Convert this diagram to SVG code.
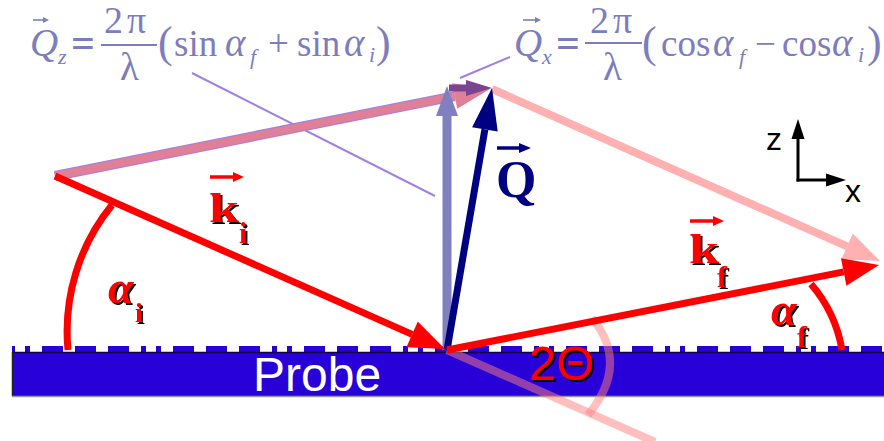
<svg xmlns="http://www.w3.org/2000/svg" width="884" height="441" viewBox="0 0 884 441">
<defs>
<style>
.form{font-family:"Liberation Serif","Times New Roman",serif;fill:#7d7dbd;font-size:37px}
.it{font-style:italic}
.sub{font-size:22px;font-style:italic}
.par{font-size:44px}
.lab{font-family:"Liberation Serif","Times New Roman",serif;font-weight:bold;fill:#ff0000}
.sans{font-family:"Liberation Sans",Arial,sans-serif}
.thin{stroke:#a080e0;stroke-width:2;fill:none}
.vec{fill:none;stroke-linecap:butt}
.arc{fill:none;stroke:#ff0000;stroke-width:7}
.ghost{fill:none;stroke:#ff7f7f;stroke-width:8;opacity:0.5}
</style>
<filter id="sh" x="-30%" y="-30%" width="160%" height="160%"><feOffset in="SourceAlpha" dx="2" dy="1.5" result="o"/><feMerge><feMergeNode in="o"/><feMergeNode in="SourceGraphic"/></feMerge></filter>
<marker id="m-red" markerUnits="userSpaceOnUse" markerWidth="38" markerHeight="30" refX="0" refY="14" orient="auto" overflow="visible"><path d="M0,0 L36,14 L0,28 Z" fill="#ff0000"/></marker>
<marker id="m-lpink" markerUnits="userSpaceOnUse" markerWidth="38" markerHeight="30" refX="0" refY="14" orient="auto" overflow="visible"><path d="M0,0 L36,14 L0,28 Z" fill="#ffb0b0"/></marker>
<marker id="m-mauve" markerUnits="userSpaceOnUse" markerWidth="38" markerHeight="28" refX="0" refY="13" orient="auto" overflow="visible"><path d="M0,0 L36,13 L0,26 Z" fill="#e07f98"/></marker>
<marker id="m-navy" markerUnits="userSpaceOnUse" markerWidth="44" markerHeight="28" refX="0" refY="13" orient="auto" overflow="visible"><path d="M0,0 L42,13 L0,26 Z" fill="#000080"/></marker>
<marker id="m-slate" markerUnits="userSpaceOnUse" markerWidth="32" markerHeight="24" refX="0" refY="11" orient="auto" overflow="visible"><path d="M0,0 L30,11 L0,22 Z" fill="#8080c0"/></marker>
<marker id="m-purple" markerUnits="userSpaceOnUse" markerWidth="28" markerHeight="18" refX="0" refY="8" orient="auto" overflow="visible"><path d="M0,0 L26,8 L0,16 Z" fill="#7a4590"/></marker>
<marker id="m-black" markerUnits="userSpaceOnUse" markerWidth="22" markerHeight="15" refX="0" refY="6.5" orient="auto" overflow="visible"><path d="M0,0 L20,6.5 L0,13 Z" fill="#000000"/></marker>
<marker id="m-red-s" markerUnits="userSpaceOnUse" markerWidth="13" markerHeight="12" refX="0" refY="5" orient="auto" overflow="visible"><path d="M0,0 L11,5 L0,10 Z" fill="#ff0000"/></marker>
<marker id="m-navy-s" markerUnits="userSpaceOnUse" markerWidth="14" markerHeight="12" refX="0" refY="5" orient="auto" overflow="visible"><path d="M0,0 L12,5 L0,10 Z" fill="#000080"/></marker>
<marker id="m-form" markerUnits="userSpaceOnUse" markerWidth="8" markerHeight="8" refX="0" refY="3" orient="auto" overflow="visible"><path d="M0,0 L6,3 L0,6 Z" fill="#7d7dbd"/></marker>
</defs>
<rect x="0" y="0" width="884" height="441" fill="#ffffff"/>

<g id="probe">
<rect x="12" y="352" width="880" height="44" fill="#2800d8"/>
<line x1="12" y1="349" x2="884" y2="349" stroke="#2800d8" stroke-width="6" stroke-dasharray="21 12 21 12 21 12 5 10 5 12" stroke-dashoffset="-30"/>
<line x1="12" y1="352.5" x2="884" y2="352.5" stroke="#14004a" stroke-width="1.5"/>
<line x1="12.5" y1="352" x2="12.5" y2="396" stroke="#222222" stroke-width="1.5"/>
<line x1="12" y1="396.5" x2="884" y2="396.5" stroke="#999999" stroke-width="1.5"/>
<text class="sans" x="253" y="391" font-size="48" fill="#ffffff">Probe</text>
</g>

<g id="formula-qz" class="form">
<text class="it" x="30" y="56" font-size="39">Q</text>
<line class="vec" x1="33" y1="20" x2="43" y2="20" stroke="#7d7dbd" stroke-width="1.6" marker-end="url(#m-form)"/>
<text class="sub" x="58" y="64">z</text>
<text x="71" y="57" font-size="42" font-weight="bold">=</text>
<text x="104" y="33" font-size="38">2</text><text x="127" y="33" font-size="38">π</text>
<line x1="101" y1="45" x2="157" y2="45" stroke="#7d7dbd" stroke-width="2"/>
<text x="120" y="80" font-size="39">λ</text>
<text class="par" x="158" y="57">(</text>
<text x="174" y="56">sin</text>
<text class="it" x="225" y="56" font-size="39">α</text>
<text class="sub" x="250" y="64">f</text>
<text x="268" y="56">+</text>
<text x="297" y="56">sin</text>
<text class="it" x="344" y="56" font-size="39">α</text>
<text class="sub" x="369" y="62">i</text>
<text class="par" x="376" y="57">)</text>
</g>

<g id="formula-qx" class="form">
<text class="it" x="514" y="56" font-size="39">Q</text>
<line class="vec" x1="523" y1="20" x2="535" y2="20" stroke="#7d7dbd" stroke-width="1.6" marker-end="url(#m-form)"/>
<text class="sub" x="542" y="64">x</text>
<text x="556" y="57" font-size="42" font-weight="bold">=</text>
<text x="590" y="33" font-size="38">2</text><text x="613" y="33" font-size="38">π</text>
<line x1="585" y1="43" x2="642" y2="43" stroke="#7d7dbd" stroke-width="2"/>
<text x="603" y="80" font-size="39">λ</text>
<text class="par" x="642" y="57">(</text>
<text x="661" y="56">cos</text>
<text class="it" x="713" y="56" font-size="39">α</text>
<text class="sub" x="739" y="64">f</text>
<text x="755" y="56">−</text>
<text x="782" y="56">cos</text>
<text class="it" x="832" y="56" font-size="39">α</text>
<text class="sub" x="858" y="62">i</text>
<text class="par" x="867" y="57">)</text>
</g>

<g id="connectors">
<line class="thin" x1="192" y1="73" x2="435" y2="196"/>
<line class="thin" x1="460" y1="78" x2="510" y2="57"/>
<path class="ghost" d="M447,350 L655,442"/>
<path class="ghost" d="M592,318 Q630,364 588,415"/>
<line class="vec" x1="492" y1="89" x2="847.1" y2="246.4" stroke="#ffb0b0" stroke-width="8" marker-end="url(#m-lpink)"/>
<line class="vec" x1="55" y1="176" x2="454.7" y2="96.1" stroke="#a080e0" stroke-width="10"/>
<line class="vec" x1="55" y1="176" x2="454.7" y2="96.1" stroke="#e07f98" stroke-width="8" marker-end="url(#m-mauve)"/>
<line class="vec" x1="447" y1="350" x2="447" y2="116" stroke="#8080c0" stroke-width="9" marker-end="url(#m-slate)"/>
<line class="vec" x1="449" y1="88" x2="466" y2="88" stroke="#7a4590" stroke-width="7" marker-end="url(#m-purple)"/>
<line class="vec" x1="447" y1="350" x2="484.9" y2="129.4" stroke="#000080" stroke-width="7" marker-end="url(#m-navy)"/>
<line class="vec" x1="55" y1="176" x2="412.1" y2="334.4" stroke="#ff0000" stroke-width="7" marker-end="url(#m-red)"/>
<line class="vec" x1="447" y1="350" x2="843.7" y2="271.9" stroke="#ff0000" stroke-width="7" marker-end="url(#m-red)"/>
<path class="arc" d="M68,350 A200,200 0 0 1 112,205"/>
<path class="arc" d="M811,284 A136,136 0 0 1 842,350"/>
</g>

<g id="axes">
<line x1="798" y1="181.5" x2="798" y2="139" stroke="#000000" stroke-width="3" marker-end="url(#m-black)"/>
<line x1="796.5" y1="180" x2="826" y2="180" stroke="#000000" stroke-width="3" marker-end="url(#m-black)"/>
<text class="sans" x="766" y="150" font-size="32" fill="#000000">z</text>
<text class="sans" x="845" y="202" font-size="32" fill="#000000">x</text>
</g>

<g id="label-ki">
<line x1="210" y1="177" x2="233" y2="177" stroke="#ff0000" stroke-width="3.5" marker-end="url(#m-red-s)"/>
<g filter="url(#sh)">
<text class="lab" x="209" y="222" font-size="42" textLength="30" lengthAdjust="spacingAndGlyphs">k</text>
<text class="lab" x="239" y="243" font-size="30">i</text>
</g>
</g>

<g id="label-kf">
<line x1="690" y1="221" x2="713" y2="221" stroke="#ff0000" stroke-width="3.5" marker-end="url(#m-red-s)"/>
<g filter="url(#sh)">
<text class="lab" x="689" y="263" font-size="42" textLength="30" lengthAdjust="spacingAndGlyphs">k</text>
<text class="lab" x="717" y="287" font-size="30">f</text>
</g>
</g>

<g id="label-ai" filter="url(#sh)">
<text class="lab" x="108" y="303" font-size="46" font-style="italic">α</text>
<text class="lab" x="135" y="322" font-size="28">i</text>
</g>

<g id="label-af" filter="url(#sh)">
<text class="lab" x="771" y="325" font-size="46" font-style="italic">α</text>
<text class="lab" x="797" y="347" font-size="30">f</text>
</g>

<g id="label-2theta" filter="url(#sh)">
<text class="sans" x="529" y="380" font-size="49" fill="#ff0000">2Θ</text>
</g>

<g id="label-q">
<line x1="497" y1="148" x2="519" y2="148" stroke="#000080" stroke-width="3.5" marker-end="url(#m-navy-s)"/>
<text x="496" y="197" font-family="'Liberation Serif','Times New Roman',serif" font-weight="bold" font-size="52" fill="#000080">Q</text>
</g>
</svg>
